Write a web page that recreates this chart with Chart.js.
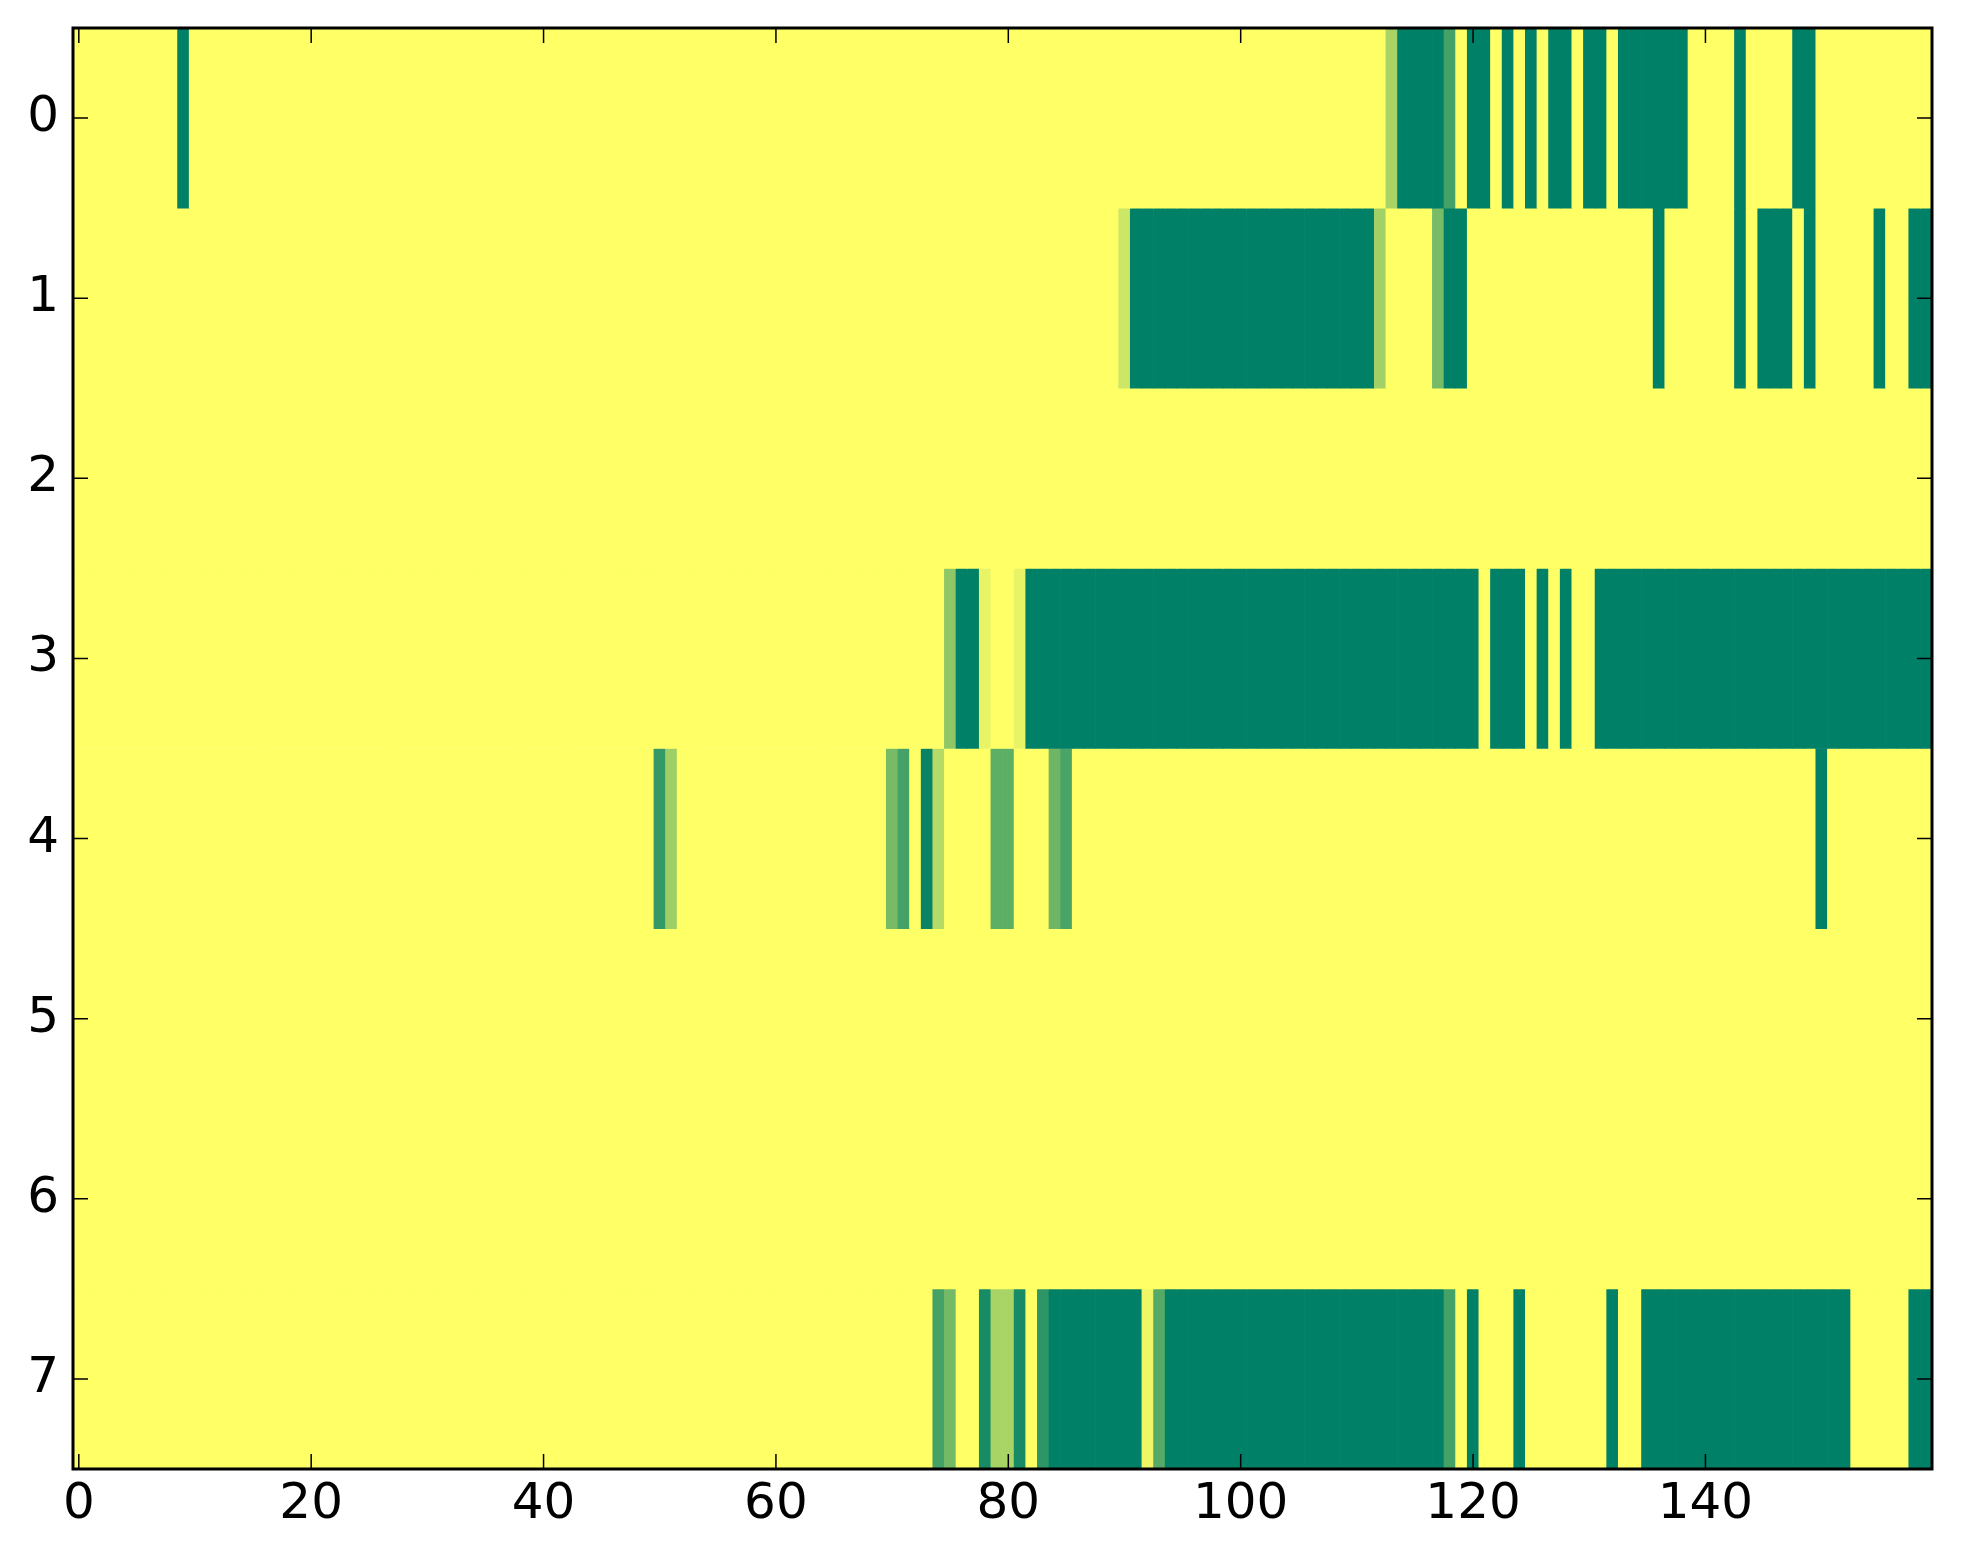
<!DOCTYPE html>
<html>
<head>
<meta charset="utf-8">
<script src="https://cdn.jsdelivr.net/npm/chart.js@4.4.1/dist/chart.umd.min.js"></script>
<style>
  html, body { margin: 0; padding: 0; background: #fff; }
  #wrap { width: 1963px; height: 1564px; }
</style>
</head>
<body>
<div id="wrap"><canvas id="heatChart"></canvas></div>
<script>
// Heatmap, 8 rows x 160 columns, colormap "summer" (0 = green, 1 = yellow)
const nCols = 160;
const rowLabels = [0, 1, 2, 3, 4, 5, 6, 7];
const xTicks = [0, 20, 40, 60, 80, 100, 120, 140];

// every cell is 1 (yellow) except these runs: [fromCol, toCol, value]
const row0 = [[9, 9, 0], [113, 113, 0.66], [114, 117, 0], [118, 118, 0.27], [120, 121, 0],
  [123, 123, 0], [125, 125, 0], [127, 128, 0], [130, 131, 0], [133, 138, 0],
  [143, 143, 0], [148, 149, 0]];
const row1 = [[90, 90, 0.8], [91, 111, 0], [112, 112, 0.63], [117, 117, 0.47], [118, 119, 0],
  [136, 136, 0], [143, 143, 0], [145, 147, 0], [149, 149, 0], [155, 155, 0], [158, 159, 0]];
const row2 = [];
const row3 = [[75, 75, 0.56], [76, 77, 0], [78, 78, 0.91], [81, 81, 0.91], [82, 120, 0],
  [122, 124, 0], [126, 126, 0], [128, 128, 0], [131, 159, 0]];
const row4 = [[50, 50, 0.2], [51, 51, 0.62], [70, 70, 0.47], [71, 71, 0.27], [73, 73, 0.03],
  [74, 74, 0.71], [79, 80, 0.37], [84, 84, 0.43], [85, 85, 0.29], [150, 150, 0]];
const row5 = [];
const row6 = [];
const row7 = [[74, 74, 0.27], [75, 75, 0.45], [78, 78, 0.09], [79, 80, 0.66], [81, 81, 0.09],
  [83, 83, 0.18], [84, 91, 0], [92, 92, 0.94], [93, 93, 0.33], [94, 117, 0], [118, 118, 0.27],
  [120, 120, 0], [124, 124, 0], [132, 132, 0], [135, 152, 0], [158, 159, 0]];

const rowRuns = [row0, row1, row2, row3, row4, row5, row6, row7];

function summer(v) {
  const r = Math.round(255 * v);
  const g = Math.round(127.5 + 127.5 * v);
  return `rgb(${r},${g},102)`;
}

const datasets = rowRuns.map((runs, r) => {
  const vals = new Array(nCols).fill(1);
  runs.forEach(([a, b, v]) => { for (let c = a; c <= b; c++) vals[c] = v; });
  return {
    label: "row " + r,
    data: vals.map((v, c) => ({ x: c, y: [r - 0.5, r + 0.5] })),
    backgroundColor: vals.map(summer),
    borderWidth: 0,
    grouped: false,
    barPercentage: 1,
    categoryPercentage: 1,
  };
});

// matplotlib-style frame with inward ticks on all four sides
const frameTicks = {
  id: "frameTicks",
  afterDatasetsDraw(chart) {
    const { ctx, chartArea: a, scales: { x, y } } = chart;
    const len = 15;
    ctx.save();
    ctx.strokeStyle = "#000";
    ctx.lineWidth = 1.5;
    ctx.beginPath();
    xTicks.forEach((v) => {
      const px = x.getPixelForValue(v);
      ctx.moveTo(px, a.top); ctx.lineTo(px, a.top + len);
      ctx.moveTo(px, a.bottom); ctx.lineTo(px, a.bottom - len);
    });
    rowLabels.forEach((v) => {
      const py = y.getPixelForValue(v);
      ctx.moveTo(a.left, py); ctx.lineTo(a.left + len, py);
      ctx.moveTo(a.right, py); ctx.lineTo(a.right - len, py);
    });
    ctx.stroke();
    ctx.lineWidth = 3;
    ctx.strokeRect(a.left, a.top, a.right - a.left, a.bottom - a.top);
    ctx.restore();
  },
};

const tickFont = { family: "DejaVu Sans", size: 50 };

let heatID = document.getElementById("heatChart").getContext("2d");
let heatChart = new Chart(heatID, {
  type: "bar",
  data: { datasets: datasets },
  options: {
    responsive: true,
    maintainAspectRatio: false,
    animation: false,
    layout: { padding: { top: 28, right: 31, left: 0, bottom: 0 } },
    plugins: { legend: { display: false }, tooltip: { enabled: false } },
    scales: {
      x: {
        type: "linear",
        min: -0.5,
        max: nCols - 0.5,
        offset: false,
        grid: { display: false, drawTicks: false },
        border: { display: false },
        afterBuildTicks: (s) => { s.ticks = xTicks.map((v) => ({ value: v })); },
        afterFit: (s) => { s.height = 95; s.paddingLeft = 0; s.paddingRight = 0; },
        ticks: { color: "#000", font: tickFont, padding: 6, maxRotation: 0, autoSkip: false },
      },
      y: {
        type: "linear",
        min: -0.5,
        max: 7.5,
        reverse: true,
        grid: { display: false, drawTicks: false },
        border: { display: false },
        afterBuildTicks: (s) => { s.ticks = rowLabels.map((v) => ({ value: v })); },
        afterFit: (s) => { s.width = 73; s.paddingTop = 0; s.paddingBottom = 0; },
        ticks: { color: "#000", font: tickFont, padding: 14, autoSkip: false },
      },
    },
  },
  plugins: [frameTicks],
});
</script>
</body>
</html>
